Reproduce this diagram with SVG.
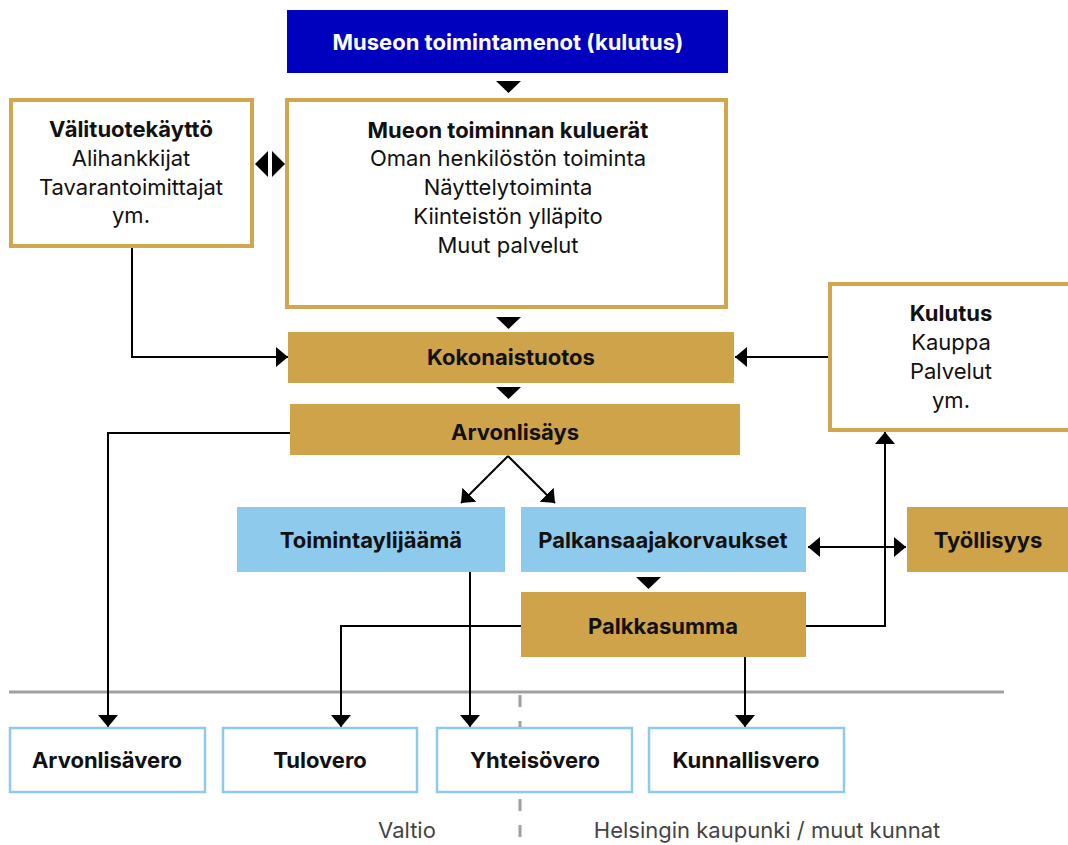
<svg xmlns="http://www.w3.org/2000/svg" width="1068" height="845" viewBox="0 0 1068 845">
<defs>
<style>
.t{font-family:Inter,"Noto Sans","Liberation Sans",sans-serif;font-size:22px;fill:#111;text-anchor:middle}
.b{font-weight:700}
.w{fill:#fff}
.g{fill:#444}
.gold{fill:#cfa34a}
.lb{fill:#8ecaec}
.ob{fill:#fff;stroke:#d1a650;stroke-width:4}
.bb{fill:#fff;stroke:#8ecaec;stroke-width:2.5}
.ln{fill:none;stroke:#000;stroke-width:2}
</style>
<marker id="ah" markerUnits="userSpaceOnUse" markerWidth="12" markerHeight="20" refX="12" refY="10" orient="auto-start-reverse">
<path d="M0,0 L12,10 L0,20 Z" fill="#000"/>
</marker>
</defs>
<rect width="1068" height="845" fill="#fff"/>

<g id="separators">
<line x1="9" y1="692" x2="1004" y2="692" stroke="#a0a0a0" stroke-width="3"/>
<line x1="520" y1="695" x2="520" y2="845" stroke="#a0a0a0" stroke-width="3" stroke-dasharray="12,14"/>
</g>

<g id="connectors">
<path class="ln" d="M132,248 V357 H288" marker-end="url(#ah)"/>
<path class="ln" d="M829,357 H735" marker-end="url(#ah)"/>
<path class="ln" d="M290,433 H108 V727" marker-end="url(#ah)"/>
<path class="ln" d="M508,456 L461,503" marker-end="url(#ah)"/>
<path class="ln" d="M508,456 L555,503" marker-end="url(#ah)"/>
<path class="ln" d="M470,571 V727" marker-end="url(#ah)"/>
<path class="ln" d="M521,626 H341 V727" marker-end="url(#ah)"/>
<path class="ln" d="M745,657 V727" marker-end="url(#ah)"/>
<path class="ln" d="M806,626 H885 V432" marker-end="url(#ah)"/>
<path class="ln" d="M808,547 H906" marker-start="url(#ah)" marker-end="url(#ah)"/>
<polygon points="496,81 521,81 508.5,93" fill="#000"/>
<polygon points="496,317 521,317 508.5,329" fill="#000"/>
<polygon points="496,387 521,387 508.5,399" fill="#000"/>
<polygon points="636,577 661,577 648.5,589" fill="#000"/>
<polygon points="255,164 268,151 268,177" fill="#000"/>
<polygon points="285,164 272,151 272,177" fill="#000"/>
</g>

<g id="museon-toimintamenot">
<rect x="287" y="10" width="441" height="63" fill="#0000bf"/>
<text class="t b w" x="508" y="50">Museon toimintamenot (kulutus)</text>
</g>

<g id="valituotekaytto">
<rect class="ob" x="11" y="100" width="241" height="146"/>
<text class="t b" x="131" y="137">Välituotekäyttö</text>
<text class="t" x="131" y="166">Alihankkijat</text>
<text class="t" x="131" y="195">Tavarantoimittajat</text>
<text class="t" x="131" y="223">ym.</text>
</g>

<g id="kuluerat">
<rect class="ob" x="287" y="100" width="439" height="207"/>
<text class="t b" x="508" y="138">Mueon toiminnan kuluerät</text>
<text class="t" x="508" y="166">Oman henkilöstön toiminta</text>
<text class="t" x="508" y="195">Näyttelytoiminta</text>
<text class="t" x="508" y="224">Kiinteistön ylläpito</text>
<text class="t" x="508" y="253">Muut palvelut</text>
</g>

<g id="kulutus">
<rect class="ob" x="830" y="284" width="245" height="146"/>
<text class="t b" x="951" y="321">Kulutus</text>
<text class="t" x="951" y="350">Kauppa</text>
<text class="t" x="951" y="379">Palvelut</text>
<text class="t" x="951" y="408">ym.</text>
</g>

<g id="kokonaistuotos">
<rect class="gold" x="288" y="332" width="446" height="51"/>
<text class="t b" x="511" y="365">Kokonaistuotos</text>
</g>

<g id="arvonlisays">
<rect class="gold" x="290" y="404" width="450" height="51"/>
<text class="t b" x="515" y="440">Arvonlisäys</text>
</g>

<g id="toimintaylijaama">
<rect class="lb" x="237" y="507" width="268" height="65"/>
<text class="t b" x="371" y="548">Toimintaylijäämä</text>
</g>

<g id="palkansaajakorvaukset">
<rect class="lb" x="521" y="507" width="285" height="65"/>
<text class="t b" x="663" y="548">Palkansaajakorvaukset</text>
</g>

<g id="tyollisyys">
<rect class="gold" x="907" y="507" width="161" height="65"/>
<text class="t b" x="988" y="548">Työllisyys</text>
</g>

<g id="palkkasumma">
<rect class="gold" x="521" y="592" width="285" height="65"/>
<text class="t b" x="663" y="634">Palkkasumma</text>
</g>

<g id="arvonlisavero">
<rect class="bb" x="10" y="728" width="195" height="64"/>
<text class="t b" x="107" y="768">Arvonlisävero</text>
</g>

<g id="tulovero">
<rect class="bb" x="223" y="728" width="194" height="64"/>
<text class="t b" x="320" y="768">Tulovero</text>
</g>

<g id="yhteisovero">
<rect class="bb" x="437" y="728" width="195" height="64"/>
<text class="t b" x="535" y="768">Yhteisövero</text>
</g>

<g id="kunnallisvero">
<rect class="bb" x="649" y="728" width="195" height="64"/>
<text class="t b" x="746" y="768">Kunnallisvero</text>
</g>

<g id="labels">
<text class="t g" x="407" y="838">Valtio</text>
<text class="t g" x="767" y="838">Helsingin kaupunki / muut kunnat</text>
</g>
</svg>
